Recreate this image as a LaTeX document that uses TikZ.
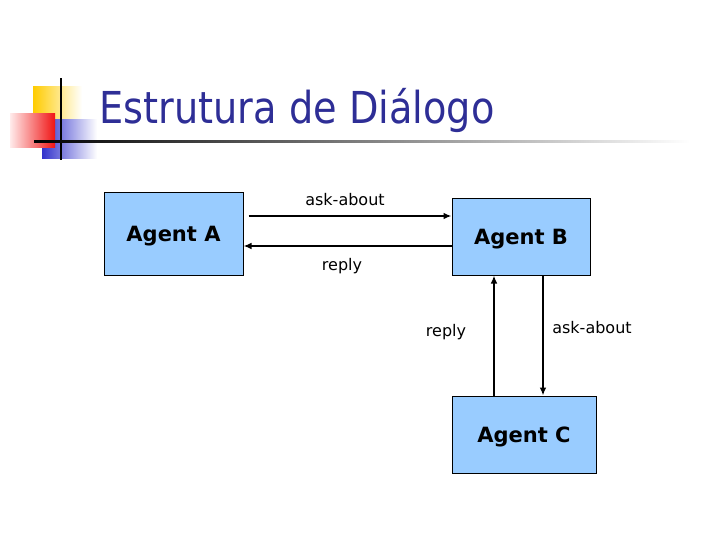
\documentclass[tikz,border=0pt]{standalone}
\usepackage{fontspec}
\setmainfont{DejaVu Sans}
\newfontfamily\titlefont[FakeStretch=0.87]{DejaVu Sans}
\usetikzlibrary{arrows.meta}

\definecolor{titleblue}{RGB}{46,46,150}
\definecolor{boxblue}{RGB}{153,204,255}
\definecolor{decoyellow}{RGB}{255,204,0}
\definecolor{decoblue}{RGB}{51,51,204}
\definecolor{decored}{RGB}{240,20,20}

\tikzset{every picture/.style={line width=0.75pt}}
\tikzset{
  agentbox/.style={draw=black, fill=boxblue, inner sep=0pt, line width=0.75pt,
    font=\fontsize{15.75}{18}\selectfont\bfseries, text height=11.4pt, text depth=0pt},
  msg/.style={line width=1.2pt, -{Latex[length=6pt,width=5pt]}},
  msglabel/.style={inner sep=0pt, anchor=base, font=\fontsize{12}{14}\selectfont}
}

\begin{document}
\begin{tikzpicture}[x=0.75pt,y=0.75pt,yscale=-1,xscale=1]
\useasboundingbox (0,0) rectangle (720,540);

%Shape: Rectangle (title decoration)
\shade [left color=decoyellow, middle color=decoyellow, right color=white] (33,86) rectangle (82,120);
%Shape: Rectangle
\shade [left color=decoblue, middle color=decoblue, right color=white] (42,119) rectangle (97,158);
%Shape: Rectangle
\shade [left color=red!8, right color=decored] (10,113) rectangle (55,147);
%Straight Lines
\draw [line width=2.2pt] (61,78) -- (61,160);
%Shape: Rectangle (title rule)
\shade [left color=black, middle color=gray!70, right color=white] (34,140) rectangle (690,142.5);

% Text Node
\node [anchor=base west, inner sep=0pt, text=titleblue, font=\titlefont\fontsize{33}{38}\selectfont] (title) at (99,123) {Estrutura de Diálogo};

%Shape: Rectangle
\node [agentbox, minimum width=104.25pt, minimum height=62.25pt] (agentA) at (173.5,233.5) {Agent A};
%Shape: Rectangle
\node [agentbox, minimum width=103.5pt, minimum height=57.75pt] (agentB) at (521,236.5) {Agent B};
%Shape: Rectangle
\node [agentbox, minimum width=108pt, minimum height=57.75pt] (agentC) at (524,434.5) {Agent C};

%Straight Lines
\draw [msg] ([xshift=3.75pt,yshift=-13.125pt]agentA.east) -- ([yshift=-15.375pt]agentB.west);
%Straight Lines
\draw [msg] ([yshift=7.125pt]agentB.west) -- ([yshift=9.375pt]agentA.east);
%Straight Lines
\draw [msg] ([xshift=-22.5pt]agentC.north) -- ([xshift=-20.25pt]agentB.south);
%Straight Lines
\draw [msg] ([xshift=16.5pt]agentB.south) -- ([xshift=14.25pt]agentC.north);

% Text Node
\node [msglabel] (askAB) at (345,205) {ask-about};
% Text Node
\node [msglabel] (replyBA) at (342,270) {reply};
% Text Node
\node [msglabel] (replyCB) at (446,336) {reply};
% Text Node
\node [msglabel] (askBC) at (592,333) {ask-about};

\end{tikzpicture}
\end{document}
